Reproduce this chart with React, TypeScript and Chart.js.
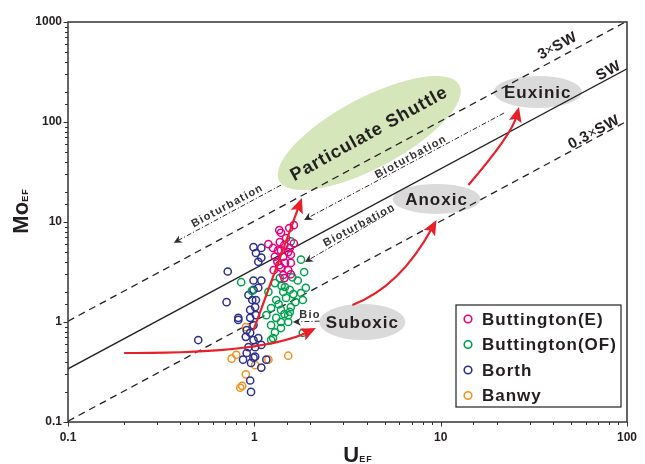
import React, { useEffect, useRef } from 'react';
import { Chart, registerables } from 'chart.js';

Chart.register(...registerables);

const FONT = '"Liberation Sans", Arial, Helvetica, sans-serif';
const INK = '#231f20';

// ---- series ----
const seriesNames = ['Buttington(E)', 'Buttington(OF)', 'Borth', 'Banwy'];
const seriesColors = ['#e5007d', '#00a04f', '#2b2e8c', '#f5901e'];

const buttE_U = [1.63, 1.54, 1.36, 1.39, 1.19, 1.37, 1.34, 1.55, 1.29, 1.43, 1.57, 1.33, 1.46, 1.57, 1.39, 1.52, 1.43, 1.57, 1.48, 1.26, 1.52, 1.39, 1.63, 1.36, 1.45, 1.27, 1.45];
const buttE_Mo = [9.3, 8.7, 8.3, 7.8, 6.0, 6.3, 5.2, 5.5, 4.5, 4.5, 4.7, 4.0, 3.9, 3.9, 3.5, 3.3, 2.95, 3.0, 6.9, 5.5, 5.0, 5.2, 6.1, 3.7, 5.9, 3.3, 2.75];

const buttOF_U = [1.57, 1.78, 1.85, 1.71, 1.89, 0.85, 0.97, 1.82, 1.57, 1.52, 1.39, 1.29, 1.23, 1.82, 1.78, 1.37, 1.29, 1.46, 1.19, 1.43, 1.55, 1.31, 1.48, 1.66, 1.23, 1.39, 1.55, 1.16, 1.31, 1.52, 1.23, 1.39, 1.26, 1.60, 1.35, 1.45, 1.62, 1.40];
const buttOF_Mo = [6.4, 4.2, 3.16, 2.6, 2.2, 2.5, 2.05, 1.66, 1.41, 1.17, 1.0, 0.79, 0.66, 0.78, 1.95, 2.75, 2.45, 2.24, 2.0, 2.0, 2.1, 1.66, 1.74, 1.58, 1.38, 1.32, 1.26, 1.17, 1.10, 1.0, 0.93, 0.87, 0.69, 2.8, 1.5, 1.2, 1.9, 2.3];

const borth_U = [0.99, 1.09, 1.02, 1.09, 1.05, 0.72, 0.71, 0.99, 1.09, 0.99, 1.05, 0.975, 1.02, 1.01, 0.95, 0.82, 0.95, 0.99, 0.91, 0.95, 0.90, 0.99, 1.05, 0.93, 1.01, 0.91, 1.01, 0.87, 0.96, 1.09, 0.50, 1.16, 0.95, 0.96, 0.82, 0.93, 1.02, 1.09, 0.99];
const borth_Mo = [5.6, 5.5, 4.9, 4.4, 4.0, 3.2, 1.58, 2.6, 2.6, 2.1, 2.2, 1.66, 1.66, 1.41, 1.32, 1.10, 1.10, 0.93, 0.83, 0.78, 0.71, 0.66, 0.69, 0.56, 0.56, 0.49, 0.45, 0.42, 0.39, 0.59, 0.66, 0.42, 0.26, 0.20, 1.05, 1.86, 1.17, 0.35, 0.44];

const banwy_U = [0.755, 0.80, 0.90, 0.84, 0.86, 1.19, 1.52, 1.01, 0.90];
const banwy_Mo = [0.43, 0.47, 0.30, 0.22, 0.23, 0.42, 0.46, 0.37, 0.89];

// ---- reference lines (U_EF end points, Mo_EF end points) ----
const refU = [0.1, 100];
const swMo = [0.34, 340];
const sw3Mo = [1.02, 1020];
const sw03Mo = [0.102, 102];

// ---- axes ----
const xTickLabels = ['0.1', '1', '10', '100'];
const yTickLabels = ['0.1', '1', '10', '100', '1000'];

// ---- annotations (data coordinates) ----
const zoneNames = ['Particulate Shuttle', 'Euxinic', 'Anoxic', 'Suboxic'];
const zoneU = [4.14, 33.2, 9.5, 3.8];
const zoneMo = [77.6, 200, 17, 1.0];

const redArrowStartU = [0.99, 0.20, 3.36, 14.1];
const redArrowStartMo = [0.83, 0.49, 1.48, 23.4];
const redArrowCtrlU = [null, 1.12, 6.05, 24.2];
const redArrowCtrlMo = [null, 0.48, 2.24, 75.9];
const redArrowEndU = [1.80, 2.14, 9.5, 26.3];
const redArrowEndMo = [17.4, 0.87, 10.5, 141];

const bioText = ['Bioturbation', 'Bioturbation', 'Bioturbation', 'Bio'];
const bioStartU = [1.39, 21.9, 5.63, 2.24];
const bioStartMo = [23.4, 123, 13.2, 1.02];
const bioEndU = [0.37, 1.85, 1.87, 1.61];
const bioEndMo = [6.2, 10.5, 3.98, 1.0];
const bioLabelU = [0.718, 6.92, 3.66, 1.99];
const bioLabelMo = [14.5, 44.7, 9.3, 1.17];

const lineLabelU = [42.5, 80, 66.7];
const lineLabelMo = [575, 324, 79];

type Part = { text: string; font: string; ls?: string; color?: string; dy?: number };

function drawParts(ctx: CanvasRenderingContext2D, parts: Part[], cx: number, cy: number, angle: number, baseline: CanvasTextBaseline = 'middle') {
  ctx.save();
  ctx.translate(cx, cy);
  ctx.rotate(angle);
  const anyCtx = ctx as any;
  let total = 0;
  const widths = parts.map((p) => {
    ctx.font = p.font;
    anyCtx.letterSpacing = p.ls || '0px';
    const w = ctx.measureText(p.text).width;
    total += w;
    return w;
  });
  let xx = -total / 2;
  ctx.textAlign = 'left';
  ctx.textBaseline = baseline;
  parts.forEach((p, i) => {
    ctx.font = p.font;
    anyCtx.letterSpacing = p.ls || '0px';
    ctx.fillStyle = p.color || INK;
    ctx.fillText(p.text, xx, p.dy || 0);
    xx += widths[i];
  });
  anyCtx.letterSpacing = '0px';
  ctx.restore();
}

function arrowHead(ctx: CanvasRenderingContext2D, tx: number, ty: number, ang: number, len: number, half: number, notch: number, color: string) {
  ctx.save();
  ctx.translate(tx, ty);
  ctx.rotate(ang);
  ctx.beginPath();
  ctx.moveTo(0, 0);
  ctx.lineTo(-len, -half);
  ctx.lineTo(-len + notch, 0);
  ctx.lineTo(-len, half);
  ctx.closePath();
  ctx.fillStyle = color;
  ctx.fill();
  ctx.restore();
}

const decorPlugin = {
  id: 'decor',
  beforeDatasetsDraw(chart: any) {
    const ctx: CanvasRenderingContext2D = chart.ctx;
    const xs = chart.scales.x;
    const ys = chart.scales.y;
    const a = chart.chartArea;
    ctx.save();
    ctx.beginPath();
    ctx.rect(a.left, a.top, a.right - a.left, a.bottom - a.top);
    ctx.clip();
    const fills = ['#d4e6ba', '#dadada', '#dadada', '#dadada'];
    const rx = [102, 44, 44, 43];
    const ry = [35, 16, 15, 18];
    const rot = [-28, 0, 0, 0];
    zoneNames.forEach((_, i) => {
      ctx.beginPath();
      ctx.ellipse(xs.getPixelForValue(zoneU[i]), ys.getPixelForValue(zoneMo[i]), rx[i], ry[i], (rot[i] * Math.PI) / 180, 0, Math.PI * 2);
      ctx.fillStyle = fills[i];
      ctx.fill();
    });
    ctx.restore();
  },
  afterDatasetsDraw(chart: any) {
    const ctx: CanvasRenderingContext2D = chart.ctx;
    const xs = chart.scales.x;
    const ys = chart.scales.y;
    const P = (u: number, m: number) => [xs.getPixelForValue(u), ys.getPixelForValue(m)];
    const [l0x, l0y] = P(refU[0], swMo[0]);
    const [l1x, l1y] = P(refU[1], swMo[1]);
    const slope = Math.atan2(l1y - l0y, l1x - l0x);

    // zone labels
    const zoneAng = [-29, 0, 0, 0];
    zoneNames.forEach((name, i) => {
      const [cx, cy] = P(zoneU[i], zoneMo[i]);
      drawParts(ctx, [{ text: name, font: `bold ${i === 0 ? 18 : 17}px ${FONT}`, ls: '1px' }], cx, cy + 1, (zoneAng[i] * Math.PI) / 180);
    });

    // line labels
    const bf = `bold 15px ${FONT}`;
    const nf = `14px ${FONT}`;
    const labParts: Part[][] = [
      [{ text: '3', font: bf }, { text: '×', font: nf }, { text: 'SW', font: bf, ls: '1px' }],
      [{ text: 'SW', font: bf, ls: '1px' }],
      [{ text: '0.3', font: bf, ls: '0.5px' }, { text: '×', font: nf }, { text: 'SW', font: bf, ls: '1px' }],
    ];
    labParts.forEach((parts, i) => {
      const [cx, cy] = P(lineLabelU[i], lineLabelMo[i]);
      drawParts(ctx, parts, cx, cy, slope);
    });

    // bioturbation arrows
    bioText.forEach((t, i) => {
      const [sx, sy] = P(bioStartU[i], bioStartMo[i]);
      const [ex, ey] = P(bioEndU[i], bioEndMo[i]);
      const ang = Math.atan2(ey - sy, ex - sx);
      ctx.save();
      ctx.strokeStyle = '#2b2b2b';
      ctx.lineWidth = 1;
      ctx.setLineDash([5, 2, 1.2, 2]);
      ctx.beginPath();
      ctx.moveTo(sx, sy);
      ctx.lineTo(ex - Math.cos(ang) * 5, ey - Math.sin(ang) * 5);
      ctx.stroke();
      ctx.restore();
      arrowHead(ctx, ex, ey, ang, 8, 4, 2.5, '#2b2b2b');
      const [tx, ty] = P(bioLabelU[i], bioLabelMo[i]);
      drawParts(ctx, [{ text: t, font: `bold 11px ${FONT}`, ls: '1.2px', color: '#333' }], tx, ty, i === 3 ? 0 : slope);
    });

    // red arrows
    const red = '#e8202a';
    redArrowStartU.forEach((_, i) => {
      const [sx, sy] = P(redArrowStartU[i], redArrowStartMo[i]);
      const [ex, ey] = P(redArrowEndU[i], redArrowEndMo[i]);
      const hasCtrl = redArrowCtrlU[i] !== null;
      const [cx, cy] = hasCtrl ? P(redArrowCtrlU[i] as number, redArrowCtrlMo[i] as number) : [sx, sy];
      const ang = Math.atan2(ey - cy, ex - cx);
      const back = 9;
      const bx = ex - Math.cos(ang) * back;
      const by = ey - Math.sin(ang) * back;
      ctx.save();
      ctx.strokeStyle = red;
      ctx.lineWidth = 2.2;
      ctx.beginPath();
      ctx.moveTo(sx, sy);
      if (hasCtrl) ctx.quadraticCurveTo(cx, cy, bx, by);
      else ctx.lineTo(bx, by);
      ctx.stroke();
      ctx.restore();
      arrowHead(ctx, ex, ey, ang, 15, 6.5, 3, red);
    });
  },
  afterDraw(chart: any) {
    const ctx: CanvasRenderingContext2D = chart.ctx;
    const xs = chart.scales.x;
    const ys = chart.scales.y;
    const a = chart.chartArea;
    ctx.save();
    // frame
    ctx.strokeStyle = '#333';
    ctx.lineWidth = 1.5;
    ctx.strokeRect(a.left, a.top, a.right - a.left, a.bottom - a.top);
    // ticks
    ctx.lineWidth = 1;
    const isMajor = (v: number) => {
      const l = Math.log10(v);
      return Math.abs(l - Math.round(l)) < 1e-6;
    };
    ctx.beginPath();
    xs.ticks.forEach((t: any) => {
      const px = Math.round(xs.getPixelForValue(t.value)) + 0.5;
      ctx.moveTo(px, a.bottom);
      ctx.lineTo(px, a.bottom + (isMajor(t.value) ? 4.5 : 3));
    });
    ys.ticks.forEach((t: any) => {
      const py = Math.round(ys.getPixelForValue(t.value)) + 0.5;
      ctx.moveTo(a.left, py);
      ctx.lineTo(a.left - (isMajor(t.value) ? 4.5 : 3), py);
    });
    ctx.stroke();

    // legend
    const lx = 456, ly = 305, lw = 165, lh = 102;
    ctx.fillStyle = '#fff';
    ctx.fillRect(lx, ly, lw, lh);
    ctx.strokeStyle = '#222';
    ctx.lineWidth = 1.2;
    ctx.strokeRect(lx, ly, lw, lh);
    seriesNames.forEach((name, i) => {
      const cy = ly + 14 + i * 25.5;
      ctx.beginPath();
      ctx.arc(lx + 12, cy, 3.8, 0, Math.PI * 2);
      ctx.strokeStyle = seriesColors[i];
      ctx.lineWidth = 1.6;
      ctx.stroke();
      ctx.font = `bold 17px ${FONT}`;
      (ctx as any).letterSpacing = '1px';
      ctx.fillStyle = INK;
      ctx.textAlign = 'left';
      ctx.textBaseline = 'middle';
      ctx.fillText(name, lx + 26, cy + 1);
      (ctx as any).letterSpacing = '0px';
    });
    ctx.restore();

    // axis titles
    drawParts(ctx, [
      { text: 'U', font: `bold 22px ${FONT}` },
      { text: 'EF', font: `bold 9px ${FONT}`, ls: '1px' },
    ], 358, 462, 0, 'alphabetic');
    drawParts(ctx, [
      { text: 'Mo', font: `bold 22px ${FONT}` },
      { text: 'EF', font: `bold 9px ${FONT}`, ls: '1px' },
    ], 28, 211, -Math.PI / 2, 'alphabetic');
  },
};

const tickLabel = (labels: string[]) => (value: any) => {
  const l = Math.log10(Number(value));
  const r = Math.round(l);
  if (Math.abs(l - r) < 1e-6) return labels[r + 1] ?? '';
  return '';
};

export default function App() {
  const ref = useRef<HTMLCanvasElement | null>(null);
  useEffect(() => {
    document.body.style.margin = '0';
    const series = [
      [buttE_U, buttE_Mo],
      [buttOF_U, buttOF_Mo],
      [borth_U, borth_Mo],
      [banwy_U, banwy_Mo],
    ];
    const pointSets = series.map(([u, m], i) => ({
      label: seriesNames[i],
      data: u.map((v, j) => ({ x: v, y: m[j] })),
      showLine: false,
      pointRadius: 3.6,
      pointHoverRadius: 3.6,
      pointBorderWidth: 1.5,
      borderColor: seriesColors[i],
      backgroundColor: 'rgba(0,0,0,0)',
    }));
    const lineSet = (mo: number[], dash: number[], label: string) => ({
      label,
      data: refU.map((u, j) => ({ x: u, y: mo[j] })),
      showLine: true,
      pointRadius: 0,
      borderColor: '#222',
      borderWidth: 1.3,
      borderDash: dash,
      backgroundColor: 'rgba(0,0,0,0)',
    });
    const chart = new Chart(ref.current as HTMLCanvasElement, {
      type: 'scatter',
      data: {
        datasets: [
          ...pointSets,
          lineSet(swMo, [], 'SW'),
          lineSet(sw3Mo, [7, 5], '3×SW'),
          lineSet(sw03Mo, [7, 5], '0.3×SW'),
        ] as any,
      },
      options: {
        animation: false,
        responsive: false,
        devicePixelRatio: 1,
        layout: { padding: { top: 22, right: 14, left: 0, bottom: 0 } },
        plugins: { legend: { display: false }, tooltip: { enabled: false } },
        scales: {
          x: {
            type: 'logarithmic',
            min: 0.1,
            max: 100,
            grid: { display: false, drawTicks: false },
            border: { display: false },
            ticks: {
              autoSkip: false,
              maxRotation: 0,
              padding: 8,
              color: INK,
              font: { family: FONT, size: 12, weight: 'bold' },
              callback: tickLabel(xTickLabels),
            },
            afterFit: (s: any) => {
              s.height = 42;
            },
          },
          y: {
            type: 'logarithmic',
            min: 0.1,
            max: 1000,
            grid: { display: false, drawTicks: false },
            border: { display: false },
            ticks: {
              autoSkip: false,
              padding: 6,
              color: INK,
              font: { family: FONT, size: 12, weight: 'bold' },
              callback: tickLabel(yTickLabels),
            },
            afterFit: (s: any) => {
              s.width = 68;
            },
          },
        } as any,
      },
      plugins: [decorPlugin],
    });
    return () => chart.destroy();
  }, []);
  return (
    <div style={{ position: 'fixed', left: 0, top: 0, width: 645, height: 464 }}>
      <canvas ref={ref} width={645} height={464} />
    </div>
  );
}
